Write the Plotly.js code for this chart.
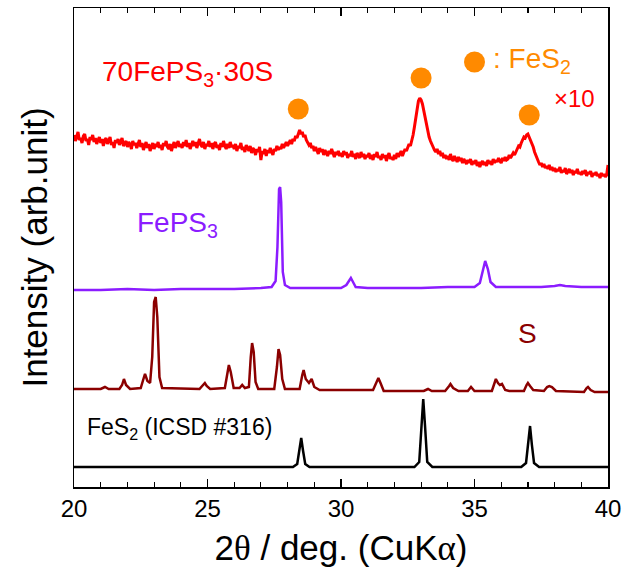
<!DOCTYPE html>
<html>
<head>
<meta charset="utf-8">
<script src="https://cdn.plot.ly/plotly-3.0.1.min.js"></script>
<style>html,body{margin:0;padding:0;background:#fff;}#chart{width:624px;height:578px;}</style>
</head>
<body>
<div id="chart"></div>
<script>
// 70FePS3·30S (x10) : 0.05 deg steps from 20 to 40, one row per degree
const mixStart = 20, mixStep = 0.05;
const mixY = [
352,346,350,355,347,349,344,351,353,346,348,342,350,347,352,345,349,343,347,350,
344,348,341,347,349,343,346,350,342,345,339,347,344,348,342,345,349,341,344,346,
340,345,343,338,346,342,344,339,343,347,340,344,337,342,345,339,343,336,341,344,
338,343,340,345,339,342,337,344,341,346,340,338,343,336,341,345,339,342,346,340,
343,339,345,341,347,340,344,338,342,346,341,345,339,343,348,342,340,345,338,343,
341,346,340,344,338,343,345,339,342,337,344,340,346,341,338,343,339,345,340,342,
338,343,336,341,339,344,337,340,335,342,338,336,341,334,339,337,332,338,335,340,
327,336,333,338,331,337,334,339,335,332,338,336,341,337,340,338,343,339,342,345,
341,344,347,343,348,346,351,349,354,357,353,355,350,352,347,345,342,344,339,341,
336,340,337,333,339,335,338,332,337,334,331,336,333,338,334,330,335,332,336,331,
334,330,336,332,335,329,333,331,336,330,333,328,334,331,329,335,330,333,328,332,
330,334,328,332,327,333,330,335,329,331,327,333,329,332,326,331,334,328,330,327,
332,328,334,330,333,336,331,335,338,336,340,343,341,346,352,360,370,380,386,389,
387,383,376,370,362,356,350,346,342,340,337,335,338,333,336,331,334,329,332,328,
331,327,333,328,326,331,328,325,330,326,329,324,328,326,323,327,324,328,322,326,
323,327,321,325,320,324,326,322,325,321,327,323,326,322,328,324,327,325,329,326,
324,329,326,330,327,328,332,329,331,334,332,336,338,341,340,344,347,350,349,352,
353,350,347,343,340,335,331,327,325,322,324,320,323,319,321,318,322,317,320,316,
319,315,318,316,320,314,317,315,319,313,316,318,314,317,312,316,314,318,313,315,
312,316,313,317,311,315,313,316,310,314,312,315,311,313,309,314,311,313,310,312,
322];

// FePS3
const fepsX = [20,21,22,23,24,25,26,27,27.4,27.55,27.62,27.68,27.72,27.76,27.82,27.9,28.1,29,30,30.2,30.3,30.37,30.45,30.55,31,32,33,34,35,35.2,35.3,35.4,35.5,35.6,35.8,36.5,37.5,38.0,38.2,38.4,39,40];
const fepsY = [197,197,198,197,198,198,198,199,200,206,240,298,300,285,215,202,199,199,199,202,207,209,205,200,199,199,199,200,200,204,214,226,218,205,200,200,200,201,202,201,200,200];

// S
const sX = [20,21.0,21.16,21.3,21.7,21.8,21.87,21.95,22.1,22.5,22.6,22.66,22.75,22.85,22.93,23.0,23.06,23.12,23.2,23.3,24.7,24.85,24.9,24.97,25.1,25.65,25.75,25.8,25.87,25.98,26.2,26.3,26.4,26.55,26.62,26.67,26.73,26.8,26.9,27.5,27.6,27.66,27.72,27.8,27.9,28.45,28.55,28.6,28.68,28.8,28.9,29.0,29.2,31.2,31.35,31.4,31.48,31.6,33.1,33.26,33.4,33.9,34.05,34.1,34.2,34.4,34.75,34.87,35.0,35.65,35.75,35.8,35.88,35.95,36.03,36.15,36.3,36.85,36.95,37.0,37.08,37.2,37.6,37.72,37.8,37.9,38.05,39.1,39.2,39.25,39.35,39.5,40];
const sY = [98,98,100,98,98,102,108,102,98,99,108,113,106,104,130,185,190,170,110,99,98,102,104,101,98,99,112,122,115,99,99,102,99,100,130,144,135,105,98,98,120,138,132,108,98,98,112,117,108,104,108,100,97,97,106,109,104,96,96,98,96,96,101,103,99,96,96,100,96,96,104,108,104,102,103,97,96,96,102,104,101,97,96,100,101,100,96,95,99,100,97,95,95];

// FeS2 (ICSD #316)
const pyrX = [20,28.2,28.36,28.44,28.51,28.58,28.66,28.82,32.75,32.93,33.01,33.08,33.15,33.23,33.42,36.75,36.93,37.01,37.08,37.15,37.23,37.42,40];
const pyrY = [20,20,23,36,49,36,23,20,20,25,60,88,60,25,20,20,24,42,61,42,24,20,20];

// FeS2 markers
const dotX = [28.4, 33.0, 37.05, 35.0];
const dotY = [378, 409, 372, 425];

const mixX = mixY.map((_, i) => +(mixStart + i * mixStep).toFixed(2));

const traces = [
  {x: pyrX, y: pyrY, mode: 'lines', line: {color: '#000000', width: 2.5}},
  {x: sX, y: sY, mode: 'lines', line: {color: '#8b0000', width: 2.5}},
  {x: fepsX, y: fepsY, mode: 'lines', line: {color: '#8b1cff', width: 2.5}},
  {x: mixX, y: mixY, mode: 'lines', line: {color: '#ff0000', width: 3}},
  {x: dotX, y: dotY, mode: 'markers', marker: {color: '#ff8a00', size: 21}}
];

const F = 'Arial, "Liberation Sans", sans-serif';
const layout = {
  width: 624, height: 578,
  margin: {l: 74, r: 16, t: 8, b: 91},
  paper_bgcolor: '#fff', plot_bgcolor: '#fff',
  showlegend: false,
  font: {family: F, color: '#000'},
  xaxis: {
    range: [20, 40], dtick: 5, tick0: 20,
    ticks: 'inside', ticklen: 8, tickwidth: 1.3, tickcolor: '#000',
    minor: {dtick: 1, ticks: 'inside', ticklen: 5, tickwidth: 1.2, tickcolor: '#000'},
    showline: true, linecolor: '#000', linewidth: 1.5, mirror: 'ticks',
    showgrid: false, zeroline: false,
    tickfont: {family: F, size: 24, color: '#000'},
    title: {text: '2<span style="font-family:Liberation Serif">θ</span> / deg. (CuK<span style="font-family:Liberation Serif">α</span>)', font: {family: F, size: 35, color: '#000'}, standoff: 14}
  },
  yaxis: {
    range: [0, 479],
    showticklabels: false, ticks: '',
    showline: true, linecolor: '#000', linewidth: 1.5, mirror: true,
    showgrid: false, zeroline: false,
    title: {text: 'Intensity (arb.unit)', font: {family: F, size: 35, color: '#000'}, standoff: 14}
  },
  annotations: [
    {x: 20.97, y: 414, xref: 'x', yref: 'y', xanchor: 'left', yanchor: 'middle', showarrow: false,
     text: '70FePS<sub>3</sub>·30S', font: {size: 28, color: '#ff0000'}},
    {x: 35.6, y: 427, xref: 'x', yref: 'y', xanchor: 'left', yanchor: 'middle', showarrow: false,
     text: ': FeS<sub>2</sub>', font: {size: 28, color: '#ff8a00'}},
    {x: 37.9, y: 389, xref: 'x', yref: 'y', xanchor: 'left', yanchor: 'middle', showarrow: false,
     text: '×10', font: {size: 24, color: '#ff0000'}},
    {x: 22.3, y: 263, xref: 'x', yref: 'y', xanchor: 'left', yanchor: 'middle', showarrow: false,
     text: 'FePS<sub>3</sub>', font: {size: 28, color: '#8b1cff'}},
    {x: 36.97, y: 154, xref: 'x', yref: 'y', xanchor: 'center', yanchor: 'middle', showarrow: false,
     text: 'S', font: {size: 28, color: '#8b0000'}},
    {x: 20.4, y: 59, xref: 'x', yref: 'y', xanchor: 'left', yanchor: 'middle', showarrow: false,
     text: 'FeS<sub>2</sub> (ICSD #316)', font: {size: 23, color: '#000'}}
  ]
};

Plotly.newPlot('chart', traces, layout, {displayModeBar: false, staticPlot: true});
</script>
</body>
</html>
